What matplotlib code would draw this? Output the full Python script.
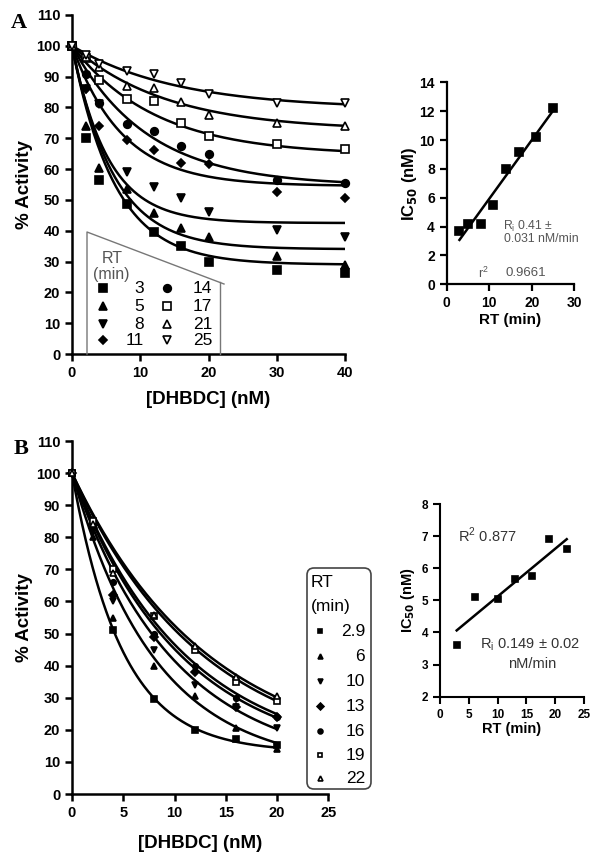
import numpy as np
import matplotlib.pyplot as plt
from matplotlib.patches import FancyBboxPatch

plt.rcParams['font.family'] = ['Liberation Sans', 'DejaVu Sans']

# ---- Panel A data: % activity vs [DHBDC] for each RT (min)
a_conc = [0, 2, 4, 8, 12, 16, 20, 30, 40]
a_rt = [3, 5, 8, 11, 14, 17, 21, 25]
a_act = [
    [100, 70, 56.5, 48.7, 39.7, 35.1, 30.0, 27.3, 26.2],
    [100, 74, 60.5, 53.5, 45.7, 40.8, 37.9, 31.8, 28.9],
    [100, 86, 81.0, 59.0, 54.3, 50.5, 46.2, 40.3, 38.1],
    [100, 86, 74.0, 69.5, 66.2, 61.9, 61.6, 52.7, 50.5],
    [100, 91, 81.5, 74.5, 72.4, 67.5, 64.9, 56.5, 55.6],
    [100, 96, 89.0, 82.8, 82.1, 75.1, 70.6, 68.2, 66.4],
    [100, 96.5, 93.0, 87.0, 86.3, 81.7, 77.6, 74.9, 74.0],
    [100, 97, 94.0, 91.7, 90.9, 88.0, 84.3, 81.6, 81.4],
]
# fitted one-phase decay (plateau, rate)
a_plateau = [29, 34, 42.5, 54.5, 54.5, 64.5, 72.5, 79.5]
a_rate = [0.16, 0.165, 0.19, 0.135, 0.09, 0.082, 0.072, 0.065]
a_markers = ['s', '^', 'v', 'D', 'o', 's', '^', 'v']
a_filled = [True, True, True, True, True, False, False, False]

# inset A: IC50 vs RT
a_in_rt = [3, 5, 8, 11, 14, 17, 21, 25]
a_in_ic50 = [3.7, 4.2, 4.2, 5.5, 8.0, 9.2, 10.2, 12.2]

# ---- Panel B data
b_conc = [0, 2, 4, 8, 12, 16, 20]
b_rt = ['2.9', '6', '10', '13', '16', '19', '22']
b_act = [
    [100, 84, 51.0, 29.7, 20.0, 17.0, 15.3],
    [100, 80, 55.0, 40.0, 30.5, 20.5, 14.0],
    [100, 82, 60.0, 45.0, 34.0, 27.0, 20.5],
    [100, 83, 62.0, 49.0, 38.0, 27.0, 24.0],
    [100, 84, 66.0, 50.0, 40.0, 30.0, 24.0],
    [100, 85, 70.0, 55.5, 45.0, 35.0, 29.0],
    [100, 84, 69.0, 55.8, 46.0, 36.6, 30.6],
]
b_plateau = [13, 8, 8, 10, 10, 10, 10]
b_rate = [0.205, 0.123, 0.101, 0.094, 0.09, 0.078, 0.075]
b_markers = ['s', '^', 'v', 'D', 'o', 's', '^']
b_filled = [True, True, True, True, True, False, False]

# inset B
b_in_rt = [2.9, 6, 10, 13, 16, 19, 22]
b_in_ic50 = [3.6, 5.1, 5.05, 5.65, 5.75, 6.9, 6.6]

W, H = 601, 863
fig = plt.figure(figsize=(W / 100, H / 100), dpi=100)


def box(l, t, r, b):
    return [l / W, 1 - b / H, (r - l) / W, (b - t) / H]


def style(ax, lw=1.8, size=10):
    for s in ['top', 'right']:
        ax.spines[s].set_visible(False)
    for s in ['left', 'bottom']:
        ax.spines[s].set_linewidth(lw)
    ax.tick_params(direction='out', length=5, width=lw, labelsize=size)
    for lab in ax.get_xticklabels() + ax.get_yticklabels():
        lab.set_fontweight('bold')


def mk(ax, x, y, m, filled, ms, **kw):
    ax.plot(x, y, linestyle='none', marker=m, ms=ms,
            mfc='black' if filled else 'white', mec='black', mew=1.2,
            clip_on=False, **kw)


# ---- Panel A main
axA = fig.add_axes(box(72, 15, 345, 354))
xx = np.linspace(0, 40, 300)
for i in range(len(a_rt)):
    p, k = a_plateau[i], a_rate[i]
    axA.plot(xx, p + (100 - p) * np.exp(-k * xx), color='black', lw=1.8)
    ms = 4.5 if a_markers[i] == 'D' else 5.5
    mk(axA, a_conc, a_act[i], a_markers[i], a_filled[i], ms, zorder=3)
axA.set_xlim(0, 40)
axA.set_ylim(0, 110)
axA.set_xticks([0, 10, 20, 30, 40])
axA.set_yticks(range(0, 111, 10))
style(axA, size=10.5)
axA.set_ylabel('% Activity', fontsize=13.5, fontweight='bold', labelpad=2)
axA.set_xlabel('[DHBDC] (nM)', fontsize=13.5, fontweight='bold', labelpad=8)

# ---- Inset A
axAi = fig.add_axes(box(446.7, 82.4, 574.3, 284.3))
mk(axAi, a_in_rt, a_in_ic50, 's', True, 5.5)
fa = np.polyfit(a_in_rt, a_in_ic50, 1)
xl = np.array([3, 25])
axAi.plot(xl, np.polyval(fa, xl), color='black', lw=1.8)
axAi.set_xlim(0, 30)
axAi.set_ylim(0, 14)
axAi.set_xticks([0, 10, 20, 30])
axAi.set_yticks(range(0, 15, 2))
style(axAi, lw=1.6, size=10)
axAi.set_ylabel('IC$_{\\mathbf{50}}$ (nM)', fontsize=12, fontweight='bold', labelpad=0)
axAi.set_xlabel('RT (min)', fontsize=11, fontweight='bold', labelpad=2)

# ---- Panel B main
axB = fig.add_axes(box(72, 441, 328.3, 794))
xx = np.linspace(0, 20, 300)
for i in range(len(b_rt)):
    p, k = b_plateau[i], b_rate[i]
    axB.plot(xx, p + (100 - p) * np.exp(-k * xx), color='black', lw=1.8)
    mk(axB, b_conc, b_act[i], b_markers[i], b_filled[i], 4, zorder=3)
axB.set_xlim(0, 25)
axB.set_ylim(0, 110)
axB.set_xticks([0, 5, 10, 15, 20, 25])
axB.set_yticks(range(0, 111, 10))
style(axB, size=10.5)
axB.set_ylabel('% Activity', fontsize=13.5, fontweight='bold', labelpad=2)
axB.set_xlabel('[DHBDC] (nM)', fontsize=13.5, fontweight='bold', labelpad=11)

# ---- Inset B
axBi = fig.add_axes(box(440, 504, 584, 696.7))
mk(axBi, b_in_rt, b_in_ic50, 's', True, 5)
fb = np.polyfit(b_in_rt, b_in_ic50, 1)
xl = np.array([2.9, 22])
axBi.plot(xl, np.polyval(fb, xl), color='black', lw=1.8)
axBi.set_xlim(0, 25)
axBi.set_ylim(2, 8)
axBi.set_xticks([0, 5, 10, 15, 20, 25])
axBi.set_yticks(range(2, 9))
style(axBi, lw=1.5, size=8.5)
axBi.set_ylabel('IC$_{\\mathbf{50}}$ (nM)', fontsize=10.5, fontweight='bold', labelpad=3)
axBi.set_xlabel('RT (min)', fontsize=10.5, fontweight='bold', labelpad=1)

# ---- overlay for panel letters, annotations and legends (pixel coords)
ov = fig.add_axes([0, 0, 1, 1])
ov.set_xlim(0, W)
ov.set_ylim(H, 0)
ov.axis('off')
ov.patch.set_alpha(0)

ov.text(19, 23, 'A', family='Liberation Serif', fontsize=16, fontweight='bold',
        ha='center', va='center')
ov.text(21, 449, 'B', family='Liberation Serif', fontsize=16, fontweight='bold',
        ha='center', va='center')

grey = '#555555'
ov.text(503, 226, 'R$_\\mathregular{i}$ 0.41 \u00b1', fontsize=8.8, color=grey, va='center')
ov.text(504, 239, '0.031 nM/min', fontsize=8.8, color=grey, va='center')
ov.text(478, 273, 'r$^\\mathregular{2}$', fontsize=9, color=grey, va='center')
ov.text(505, 273, '0.9661', fontsize=9.5, color=grey, va='center')

dark = '#333333'
ov.text(458, 535, 'R$^\\mathregular{2}$ 0.877', fontsize=10.5, color=dark, va='center')
ov.text(480, 645, 'R$_\\mathregular{i}$ 0.149 \u00b1 0.02', fontsize=10.5, color=dark, va='center')
ov.text(508, 664, 'nM/min', fontsize=10.5, color=dark, va='center')

# legend A (trapezoid outline)
ov.plot([87, 87, 224], [354, 232, 284], color='#777777', lw=1)
ov.plot([220, 220], [282, 354], color='#777777', lw=1)
ov.text(112, 258, 'RT', fontsize=11.5, color=grey, ha='center', va='center')
ov.text(111, 274, '(min)', fontsize=11.5, color=grey, ha='center', va='center')
rows = [288, 306.5, 324, 340]
for i in range(len(a_rt)):
    col, r = divmod(i, 4)
    mx = 103 if col == 0 else 167
    tx = 144 if col == 0 else 212
    ms = 4.5 if a_markers[i] == 'D' else 5.5
    mk(ov, [mx], [rows[r]], a_markers[i], a_filled[i], ms)
    ov.text(tx, rows[r], str(a_rt[i]), fontsize=12.5, ha='right', va='center')

# legend B (rounded box)
ov.add_patch(FancyBboxPatch((307, 568), 64, 221, boxstyle='round,pad=0,rounding_size=7',
                            fc='white', ec='#444444', lw=1.2))
ov.text(311, 582, 'RT', fontsize=12.5, ha='left', va='center')
ov.text(311, 606, '(min)', fontsize=12.5, ha='left', va='center')
b_rows = [631, 656, 681, 706, 731, 755, 778]
for i in range(len(b_rt)):
    mk(ov, [320], [b_rows[i]], b_markers[i], b_filled[i], 3.5)
    ov.text(365, b_rows[i], b_rt[i], fontsize=12.5, ha='right', va='center')

fig.savefig('out.png', dpi=100)
